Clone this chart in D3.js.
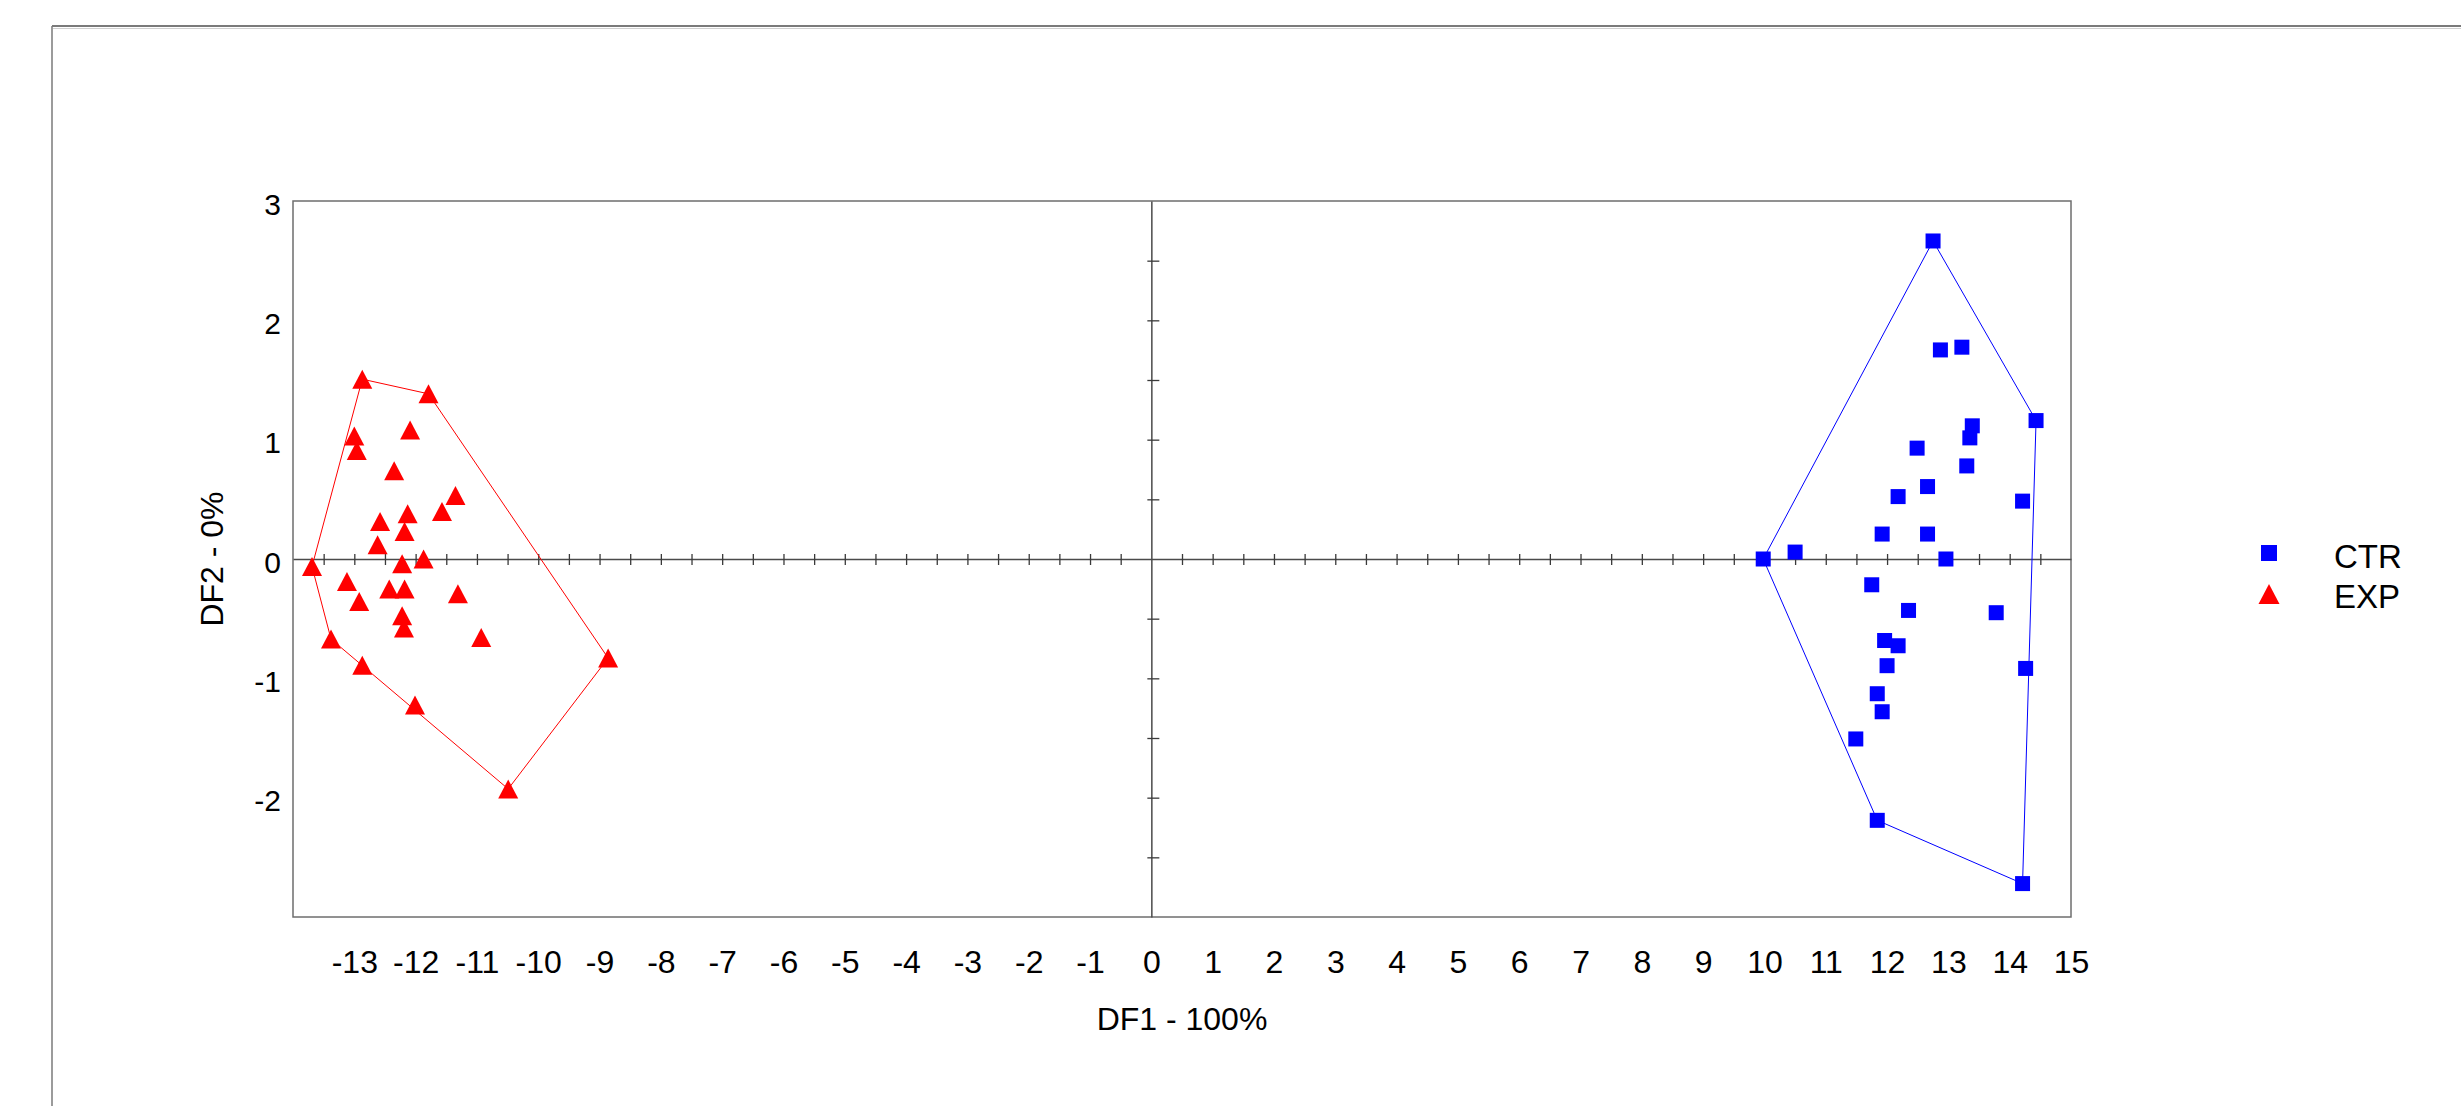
<!DOCTYPE html>
<html>
<head>
<meta charset="utf-8">
<script src="https://d3js.org/d3.v7.min.js"></script>
<style>
body { margin: 0; background: #fff; }
text { font-family: Arial, "Liberation Sans", sans-serif; fill: #000; }
</style>
</head>
<body>
<svg id="chart"></svg>
<script>
// discriminant scores (DF1, DF2)
const ctrX = [12.75, 12.87, 13.22, 14.43, 13.39, 13.35, 12.49, 13.30, 12.66, 12.18, 14.21, 11.92, 12.66, 10.50,
              9.98, 12.96, 11.75, 12.35, 13.78, 11.96, 12.18, 12.00, 14.26, 11.84, 11.92, 11.49, 11.84, 14.21];
const ctrY = [2.665, 1.752, 1.775, 1.16, 1.116, 1.015, 0.929, 0.78, 0.607, 0.523, 0.485, 0.209, 0.209, 0.058,
              0.0, 0.0, -0.216, -0.431, -0.45, -0.683, -0.727, -0.894, -0.917, -1.129, -1.28, -1.508, -2.19, -2.72];
const expX = [-12.87, -11.79, -12.09, -13.00, -12.96, -12.35, -11.35, -11.57, -12.13, -12.58, -12.18, -12.62, -11.87, -12.22,
              -13.69, -13.12, -12.43, -12.18, -11.31, -12.92, -12.22, -12.19, -10.93, -13.38, -8.86, -12.87, -12.01, -10.49];
const expY = [1.507, 1.384, 1.082, 1.031, 0.909, 0.739, 0.532, 0.398, 0.379, 0.314, 0.230, 0.119, 0.0, -0.04,
              -0.063, -0.188, -0.252, -0.252, -0.291, -0.356, -0.476, -0.579, -0.657, -0.671, -0.83, -0.89, -1.224, -1.927];

const seriesNames = ["CTR", "EXP"];
const xTickLabels = [-13, -12, -11, -10, -9, -8, -7, -6, -5, -4, -3, -2, -1, 0, 1, 2, 3, 4, 5, 6, 7, 8, 9, 10, 11, 12, 13, 14, 15];
const yTickLabels = [-2, -1, 0, 1, 2, 3];
const xTitle = "DF1 - 100%";
const yTitle = "DF2 - 0%";

const width = 2461, height = 1106;
const box = { left: 293, right: 2071, top: 201, bottom: 917 };
const plain = d => String(d);   // hyphen minus, no decimals

const svg = d3.select("#chart").attr("width", width).attr("height", height);

// page frame (top and left edge)
svg.append("line").attr("x1", 52).attr("y1", 26).attr("x2", width).attr("y2", 26)
    .attr("stroke", "#7a7a7a").attr("stroke-width", 2);
svg.append("line").attr("x1", 53).attr("y1", 28.5).attr("x2", width).attr("y2", 28.5)
    .attr("stroke", "#d0d0d0").attr("stroke-width", 1);
svg.append("line").attr("x1", 52).attr("y1", 26).attr("x2", 52).attr("y2", height)
    .attr("stroke", "#7a7a7a").attr("stroke-width", 1.5);

const x = d3.scaleLinear().domain([-14, 15]).range([box.left, box.right]);
const y = d3.scaleLinear().domain([-3, 3]).range([box.bottom, box.top]);

// plot box
svg.append("rect")
    .attr("x", box.left).attr("y", box.top)
    .attr("width", box.right - box.left).attr("height", box.bottom - box.top)
    .attr("fill", "none").attr("stroke", "#6e6e6e").attr("stroke-width", 1.5);

// axes through the origin, ticks every 0.5
const minorX = d3.range(-13.5, 15, 0.5).filter(v => v !== 0);
const minorY = d3.range(-2.5, 3, 0.5).filter(v => v !== 0);

const gx0 = svg.append("g")
    .attr("transform", `translate(0, ${y(0)})`)
    .call(d3.axisBottom(x).tickValues(minorX).tickSize(6).tickSizeOuter(0).tickFormat(""));
gx0.select(".domain").attr("stroke", "#4a4a4a").attr("stroke-width", 1.5);
gx0.selectAll(".tick line").attr("y1", -5).attr("stroke", "#3a3a3a").attr("stroke-width", 1.3);

const gy0 = svg.append("g")
    .attr("transform", `translate(${x(0)}, 0)`)
    .call(d3.axisRight(y).tickValues(minorY).tickSize(8).tickSizeOuter(0).tickFormat(""));
gy0.select(".domain").attr("stroke", "#4a4a4a").attr("stroke-width", 1.5);
gy0.selectAll(".tick line").attr("x1", -4).attr("stroke", "#3a3a3a").attr("stroke-width", 1.3);

// tick labels on the box edges
const gxl = svg.append("g")
    .attr("transform", `translate(0, ${box.bottom})`)
    .call(d3.axisBottom(x).tickValues(xTickLabels).tickSize(0).tickFormat(plain));
gxl.select(".domain").remove();
gxl.selectAll("text").attr("y", 56).attr("dy", 0)
    .style("font-size", "32px").style("font-family", "Arial, 'Liberation Sans', sans-serif").attr("fill", "#000");

const gyl = svg.append("g")
    .attr("transform", `translate(${box.left}, 0)`)
    .call(d3.axisLeft(y).tickValues(yTickLabels).tickSize(0).tickFormat(plain));
gyl.select(".domain").remove();
gyl.selectAll("text").attr("x", -12).attr("dy", 13)
    .style("font-size", "30px").style("font-family", "Arial, 'Liberation Sans', sans-serif").attr("fill", "#000");

// axis titles
svg.append("text")
    .attr("x", (box.left + box.right) / 2).attr("y", 1030)
    .attr("text-anchor", "middle").style("font-size", "32px")
    .text(xTitle);

svg.append("text")
    .attr("transform", `translate(223, ${(box.top + box.bottom) / 2}) rotate(-90)`)
    .attr("text-anchor", "middle").style("font-size", "32px")
    .text(yTitle);

// convex hulls
const ctrPts = ctrX.map((v, i) => [v, ctrY[i]]);
const expPts = expX.map((v, i) => [v, expY[i]]);

const hullLine = d3.line()
    .x(d => x(d[0])).y(d => y(d[1]))
    .curve(d3.curveLinearClosed);

svg.append("path").attr("d", hullLine(d3.polygonHull(expPts)))
    .attr("fill", "none").attr("stroke", "#ff0000").attr("stroke-width", 1);
svg.append("path").attr("d", hullLine(d3.polygonHull(ctrPts)))
    .attr("fill", "none").attr("stroke", "#0000ff").attr("stroke-width", 1);

// markers
const sq = 15;
const triPath = "M0,-9.5L10,9.5L-10,9.5Z";

svg.append("g").selectAll("rect")
    .data(ctrPts)
    .enter()
    .append("rect")
    .attr("x", d => x(d[0]) - sq / 2)
    .attr("y", d => y(d[1]) - sq / 2)
    .attr("width", sq).attr("height", sq)
    .attr("fill", "#0000ff");

svg.append("g").selectAll("path")
    .data(expPts)
    .enter()
    .append("path")
    .attr("transform", d => `translate(${x(d[0])}, ${y(d[1])})`)
    .attr("d", triPath)
    .attr("fill", "#ff0000");

// legend
const legend = svg.append("g");
legend.append("rect")
    .attr("x", 2269 - 8).attr("y", 553 - 8).attr("width", 16).attr("height", 16)
    .attr("fill", "#0000ff");
legend.append("path")
    .attr("transform", "translate(2269, 594)")
    .attr("d", "M0,-10L10.5,10L-10.5,10Z")
    .attr("fill", "#ff0000");
legend.append("text").attr("x", 2334).attr("y", 568).style("font-size", "33px").text(seriesNames[0]);
legend.append("text").attr("x", 2334).attr("y", 608).style("font-size", "33px").text(seriesNames[1]);
</script>
</body>
</html>
